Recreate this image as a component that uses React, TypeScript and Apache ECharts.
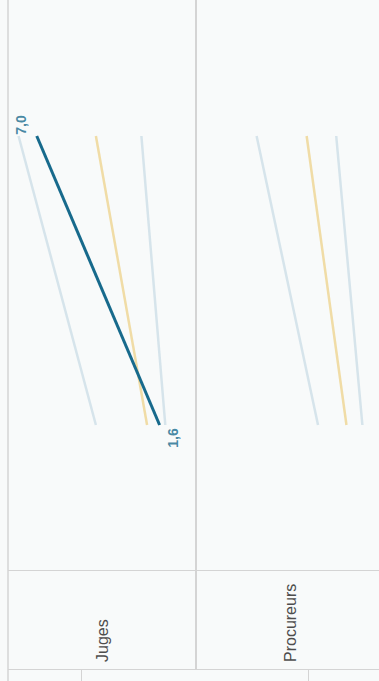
import React, { useEffect, useRef } from "react";
import * as echarts from "echarts";

const panels = ["Juges", "Procureurs"];
// values at start (top) and end (bottom) for each line in each panel
const jugesStart = [7.8, 7.0, 4.4, 2.4];
const jugesEnd = [4.4, 1.6, 2.15, 1.35];
const jugesKinds = ["light", "highlight", "gold", "light"];
const procStart = [5.6, 3.4, 2.1];
const procEnd = [2.9, 1.65, 0.95];
const procKinds = ["light", "gold", "light"];

const COLORS: Record<string, string> = {
  light: "#d6e4eb",
  gold: "#f0dca6",
  highlight: "#176a8c",
};

const fmt = (v: number) => v.toFixed(1).replace(".", ",");

export default function App() {
  const ref = useRef<HTMLDivElement>(null);
  useEffect(() => {
    if (!ref.current) return;
    const chart = echarts.init(ref.current, undefined, { renderer: "svg" });
    const pxPerUnit = 182 / 8;
    // second panel is cut 5px past the right edge of the page: keep the same scale
    const cut = 5 / pxPerUnit;
    const grids = [
      { left: 14, width: 182, top: 136, height: 289 },
      { left: 202, width: 177, top: 136, height: 289 },
    ];
    const axisMin = [0, cut];
    const axisMax = [8, 8];
    const xAxis = grids.map((g, i) => ({
      type: "value",
      gridIndex: i,
      inverse: true,
      min: axisMin[i],
      max: axisMax[i],
      show: false,
    }));
    const yAxis = grids.map((_, i) => ({
      type: "value",
      gridIndex: i,
      inverse: true,
      min: 0,
      max: 1,
      show: false,
    }));
    const series: any[] = [];
    const addPanel = (gi: number, starts: number[], ends: number[], kinds: string[]) => {
      starts.forEach((s, k) => {
        const kind = kinds[k];
        const hl = kind === "highlight";
        series.push({
          type: "line",
          xAxisIndex: gi,
          yAxisIndex: gi,
          z: hl ? 5 : 2,
          symbol: "none",
          lineStyle: { color: COLORS[kind], width: hl ? 3 : 2.5 },
          data: [
            [s, 0],
            [ends[k], 1],
          ],
          silent: true,
        });
        if (hl) {
          series.push({
            type: "scatter",
            xAxisIndex: gi,
            yAxisIndex: gi,
            z: 6,
            symbolSize: 1,
            itemStyle: { color: "rgba(0,0,0,0)" },
            label: {
              show: true,
              position: "inside",
              rotate: 90,
              align: "center",
              verticalAlign: "middle",
              color: COLORS.highlight,
              fontWeight: "bold",
              fontSize: 14,
              fontFamily: "Liberation Sans, Arial, sans-serif",
              formatter: (p: any) => fmt(p.value[0]),
            },
            data: [
              { value: [s, 0], label: { offset: [11, -16] } },
              { value: [ends[k], 1], label: { offset: [-13, 13] } },
            ],
          });
        }
      });
    };
    addPanel(0, jugesStart, jugesEnd, jugesKinds);
    addPanel(1, procStart, procEnd, procKinds);

    const lineStyle = { stroke: "#d4d4d4", lineWidth: 1 };
    const panelCenters = [102, 290];
    chart.setOption({
      animation: false,
      backgroundColor: "#f8fafa",
      grid: grids,
      xAxis,
      yAxis,
      series,
      graphic: [
        { type: "line", shape: { x1: 8, y1: 0, x2: 8, y2: 681 }, style: { ...lineStyle, lineWidth: 1.5 } },
        { type: "line", shape: { x1: 196, y1: 0, x2: 196, y2: 670 }, style: { ...lineStyle, lineWidth: 2 } },
        { type: "line", shape: { x1: 8, y1: 570.5, x2: 379, y2: 570.5 }, style: lineStyle },
        { type: "line", shape: { x1: 8, y1: 669.5, x2: 379, y2: 669.5 }, style: lineStyle },
        { type: "line", shape: { x1: 81.5, y1: 669, x2: 81.5, y2: 681 }, style: lineStyle },
        { type: "line", shape: { x1: 308.5, y1: 669, x2: 308.5, y2: 681 }, style: lineStyle },
        ...panels.map((name, i) => ({
          type: "text",
          x: panelCenters[i],
          y: 662,
          rotation: Math.PI / 2,
          style: {
            text: name,
            fill: "#4d4d4d",
            font: "16px 'Liberation Sans', Arial, sans-serif",
            textAlign: "left",
            textVerticalAlign: "middle",
          },
        })),
      ],
    });
    return () => chart.dispose();
  }, []);
  return (
    <div
      ref={ref}
      style={{ position: "absolute", left: 0, top: 0, width: 379, height: 681 }}
    />
  );
}
